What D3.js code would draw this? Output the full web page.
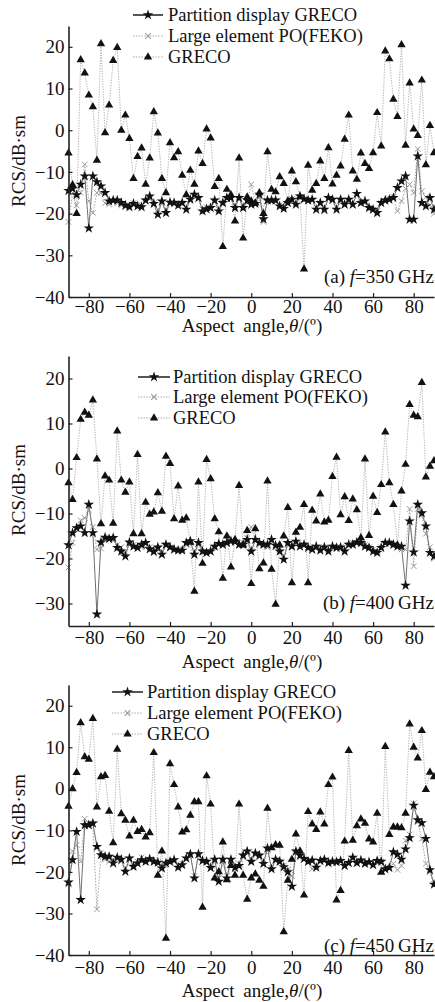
<!DOCTYPE html>
<html><head><meta charset="utf-8">
<script src="https://cdn.jsdelivr.net/npm/d3@7"></script>
<style>
body{margin:0;background:#fff}
svg{display:block}
text{font-family:"Liberation Serif","Times New Roman",serif;fill:#111}
</style>
</head><body>
<svg id="c" width="435" height="1002"></svg>
<script>
// ---------- DATA ----------
const angles = [-90,-88,-86,-84,-82,-80,-78,-76,-74,-72,-70,-68,-66,-64,-62,-60,-58,-56,-54,-52,
  -50,-48,-46,-44,-42,-40,-38,-36,-34,-32,-30,-28,-26,-24,-22,-20,-18,-16,-14,-12,-10,-8,-6,-4,-2,0,
  2,4,6,8,10,12,14,16,18,20,22,24,26,28,30,32,34,36,38,40,42,44,46,48,50,52,54,56,58,60,
  62,64,66,68,70,72,74,76,78,80,82,84,86,88,90];

const xTicks = [-80,-60,-40,-20,0,20,40,60,80];
const yTicksA = [-40,-30,-20,-10,0,10,20];
const yTicksB = [-30,-20,-10,0,10,20];
const yTicksC = [-40,-30,-20,-10,0,10,20];
const legendLabels = ["Partition display GRECO","Large element PO(FEKO)","GRECO"];
const panelTags = ["(a)","(b)","(c)"];
const panelFreqs = ["350","400","450"];

// (a) f = 350 GHz
const aGreco = [-5.5,-13.1,-20,16.9,13.7,8.4,5.6,-7.2,20.7,-0.6,6.0,16.7,19.8,0,3.6,-2,-11.6,-6.3,-4.3,-13,
  -6.7,4.4,-0.7,-11.6,-15,-3,-6.6,-5.2,-10.8,-15.5,-9.6,-13,-5,-8,0.3,-1.9,-13.5,-11.6,-27.9,-14.2,-15.5,-21.8,-6.7,-25.9,-16,-17,
  -17.5,-15,-20,-5.2,-14.2,-14.8,-11.2,-12.8,-17,-9.8,-12.4,-16,-33.3,-8.4,-14.4,-12.8,-7.4,-11.6,-4.2,-12.9,
  -10.8,-8.6,-2.2,3.6,-9.8,-11.8,-5.5,-8,-9.2,-5.4,4.2,-3.8,19,17.1,7.4,3.3,20.5,-3.6,11.3,0.3,-1.3,12,-8.3,1.1,-5.4];
const aPart = [-14.5,-14,-15.5,-13,-11,-23.5,-11,-12.4,-13.4,-15,-17,-16.8,-16.8,-17.4,-18,-18.4,-17.6,-18.2,-18.4,-16.8,
  -15.8,-17.6,-20.2,-17,-19.8,-17.3,-17.4,-18,-17.4,-19,-16.6,-15.4,-16.2,-19.4,-18.9,-18.6,-16.8,-19.4,-17.4,-16.2,-16.2,-18.6,-16.2,-18.6,-16.8,-17.8,
  -17.6,-15.4,-21.3,-16.8,-16.8,-16.8,-18.2,-18.8,-17.4,-16.6,-17.8,-15.8,-16.5,-16.8,-16.6,-19,-17.4,-19,-16.2,-16.6,
  -19,-16.6,-17.8,-16.6,-17.8,-15.2,-17.4,-17,-18.6,-19,-19.8,-17.4,-16.8,-16.6,-16.2,-13.8,-12.2,-11,-21.4,-21.4,-6.2,-17.4,-18.2,-16.2,-19];
const aFeko = [-22,-15,-18,-15,-8.2,-17,-19.8,-15,-15,-17.5,-17.8,-17,-17.5,-18,-18.5,-18,-17.5,-18,-18,-17,
  -16.5,-17.5,-19,-17.5,-19,-17.5,-17.5,-17.5,-17.5,-18.5,-16.5,-16,-16.5,-19,-18.5,-18.5,-17,-19,-17.5,-16.5,-16.5,-18.5,-16.5,-18.5,-17,-13,
  -17.5,-16,-22,-17,-17,-17,-18,-18.5,-17.5,-16.5,-17.5,-16,-16.5,-17,-17,-18.5,-17.5,-19.5,-16.5,-17,
  -18.5,-17,-17.5,-17,-18,-15.5,-17.5,-17.5,-18.5,-19,-19.5,-17.5,-17,-16.5,-16,-19.4,-17,-14,-13,-15,-4.5,-14.6,-16,-18,-20];

// (b) f = 400 GHz
const bGreco = [-3.2,-6.9,2.4,10.9,12.5,11.8,15.2,2.1,-12.3,-1.7,-2.6,-12.2,8.3,-2.6,-5.3,-3,-14.5,3.1,-14.5,-7.5,
  -10.2,-9.7,-5.4,-9.5,2.7,1.1,-11.2,-3.9,-11.5,-11,-16.4,-27.3,-3,-21.1,2,-2.3,-11.2,-14.1,-24.4,-15,-21.9,-15.8,-3.8,-17,-13.8,-25.6,
  -13.4,-22.3,-21,-2.8,-22.4,-30.2,-17,-15,-8.7,-25.4,-14.2,-13.1,-8,-25.4,-9.3,-11.7,-5.7,-11.9,-11.5,-1.8,
  2.5,-10.3,-6.3,-11.6,-6.8,-9.2,-15.4,2.1,-14.9,-6.2,-9.8,-3.6,8.1,-3.2,-8,-17,-5,0.9,14.2,11.8,11.5,19.1,-1.9,0.5,1.7];
const bPart = [-17,-14.3,-13.2,-12.8,-14.3,-8,-14.3,-32.4,-16.4,-15.3,-15.6,-15.4,-17.6,-18.4,-19.5,-16.4,-17.3,-17.6,-16.9,-16.5,
  -17.9,-18.5,-17.5,-19.1,-16.9,-17.5,-18,-18.2,-18.2,-16.5,-16.1,-19.1,-16.5,-18.4,-18.7,-18.4,-17.3,-16.7,-16.9,-16.5,-16.1,-16.2,-16.9,-16.9,-15.8,-18.4,
  -15.8,-16.5,-16.9,-16.9,-15.8,-17.1,-18.4,-20.2,-16.5,-17.3,-16.2,-17.3,-16.9,-17.6,-18,-17.3,-18.2,-17.5,-18.4,-17.3,
  -17.6,-17.5,-18.4,-16.9,-16.9,-16.4,-16.5,-17.3,-17.6,-18.4,-18.7,-17.6,-16.5,-16.5,-16.9,-17.3,-17.3,-26,-11.7,-18.6,-8,-9.9,-12.8,-18.7,-19.5];
const bFeko = [-22,-16.5,-13.5,-11.5,-11,-9.2,-13,-18,-17.8,-16,-15.5,-16,-17,-17.5,-18.5,-17,-17,-17.5,-17.5,-17.5,
  -17.5,-18.5,-18,-18.5,-17,-17.5,-18,-18,-18,-17,-16.5,-18.5,-17,-18.5,-19,-18.5,-17.5,-17,-17,-16.5,-16.5,-16.5,-17,-16.5,-15.5,-13,
  -16,-17,-17,-17.5,-16,-17.5,-18,-19.5,-17,-17.5,-16.5,-17.5,-17,-17.5,-18,-17.5,-18,-17.5,-18,-17.5,
  -17.5,-17.5,-18,-17,-16.5,-16.5,-16.5,-17,-17.5,-18,-18.5,-17.5,-16.5,-16.5,-17,-17.5,-18,-18,-9,-21.7,-9,-10.5,-14.5,-17.5,-20];

// (c) f = 450 GHz
const cGreco = [-4.2,0,3.9,15.9,7.7,7.1,16.9,-4.4,2.9,3.2,-5.4,-13,9.5,-6,-7.6,-11.4,-7.6,-10.3,-9.8,-11.6,
  -10.6,8.7,-20.8,-15,-36,6,1,-4.4,-10.4,-9.9,-6.4,-3.1,-3.1,-28.5,3.1,-3.7,-21.5,-20,-12.8,-21.9,-18.5,-20.8,-3.7,-20.8,-26.6,-21.5,
  -20.5,-22,-23.5,-4.7,-14.2,-13.5,-13.6,-34.4,-22,-17,-10.9,-15,-25.6,-5.5,-8.5,-9.8,-5.6,-8.5,1,2.8,
  -26.8,-24.5,-12.6,9.2,-12.4,-8.9,-7.3,-8.3,-12.1,-12.8,-5.9,-20.1,10.2,-11,-9.2,-9.2,-9.4,-5.9,15.6,10,7.4,14,-0.2,4,2.9];
const cPart = [-22.5,-17.1,-10.3,-26.7,-8.7,-8.7,-8.3,-13.9,-15.9,-16.3,-16.3,-17.9,-16.5,-17,-19.9,-16.7,-18.7,-17.9,-17.1,-17.5,
  -16.9,-17.5,-17.7,-19.1,-17.9,-17.5,-17.1,-18.9,-18.3,-16.7,-15.7,-21.5,-15.7,-17.3,-17.5,-19,-17,-22.3,-17,-21.5,-17,-19,-18.5,-16,-15,-17.5,
  -15.5,-16,-18,-14.3,-19.3,-17,-17.5,-18.8,-20,-23.5,-15,-16,-16.8,-17.5,-17.2,-18.9,-17.3,-17,-17.8,-17.5,
  -17.6,-17.3,-18.5,-17.8,-16.5,-17.8,-17.2,-18,-17.6,-18.3,-17.3,-17.5,-19.3,-19,-15.2,-15.8,-17,-14.5,-11.8,-4,-7.5,-8.2,-12,-19.5,-23];
const cFeko = [-23,-15,-13.5,-17.5,-7.2,-8.3,-8.5,-29,-15.5,-17,-17.5,-17,-17,-17.5,-19,-17,-18.5,-17.5,-16.5,-17.5,
  -17,-17.5,-18,-18.5,-18,-17.5,-17.5,-18.5,-18,-17,-16,-21,-16,-17.5,-17.5,-19,-17.5,-21.5,-17.5,-21,-17.5,-19,-18,-16.5,-15.5,-17,
  -16,-16.5,-18,-15,-19,-17.5,-17.5,-18.5,-19.5,-21,-15.5,-16.5,-17,-17.5,-19.3,-18.5,-17.5,-17.5,-18,-17.5,
  -17.5,-17.5,-18.5,-18,-17,-18,-17.5,-18,-18,-18.5,-17.5,-17.5,-19,-19,-18,-19.5,-18.5,-12.5,-11,-3.5,-8,-12,-18,-20,-23];

// ---------- LAYOUT ----------
const svg = d3.select("#c");
const X0 = 68.5, X1 = 434;
const x = d3.scaleLinear().domain([-90, 90]).range([X0, X1]);

const panels = [
  {greco:aGreco, part:aPart, feko:aFeko, yDom:[-40,25], yTicks:yTicksA, top:26, bot:297, pad:2.5,
   xTitleY:332, yTitleC:161, annY:283, leg:{x0:133,x1:163,tx:168,ys:[15,36,57]}},
  {greco:bGreco, part:bPart, feko:bFeko, yDom:[-35,25], yTicks:yTicksB, top:356, bot:626, pad:5,
   xTitleY:668, yTitleC:490, annY:609, leg:{x0:138,x1:170,tx:173,ys:[377,397,418]}},
  {greco:cGreco, part:cPart, feko:cFeko, yDom:[-40,25], yTicks:yTicksC, top:685, bot:955, pad:6,
   xTitleY:997, yTitleC:820, annY:952, leg:{x0:112,x1:143,tx:147,ys:[692,713,734]}}
];

const fmt = d => d < 0 ? "\u2212" + Math.abs(d) : String(d);
const starPath = d3.symbol(d3.symbolStar, 34)();
const triPath = d3.symbol(d3.symbolTriangle, 30)();
const crossPath = "M-2.8,-2.8L2.8,2.8M2.8,-2.8L-2.8,2.8";

const FS = 19, LFS = 18.5;

function drawMarkers(g, data, y, type) {
  const sel = g.selectAll(null).data(data).enter().append("path")
    .attr("transform", (d,i) => `translate(${x(angles[i])},${y(d)})`);
  if (type === "star") sel.attr("d", starPath).attr("fill", "#111");
  else if (type === "tri") sel.attr("d", triPath).attr("fill", "#111");
  else sel.attr("d", crossPath).attr("fill", "none").attr("stroke", "#999").attr("stroke-width", 1);
}

panels.forEach((p, pi) => {
  const y = d3.scaleLinear().domain(p.yDom).range([p.bot, p.top]);
  const g = svg.append("g");
  const line = d3.line().x((d,i) => x(angles[i])).y(d => y(d));

  // lines
  g.append("path").attr("d", line(p.greco)).attr("fill","none")
    .attr("stroke","#b5b5b5").attr("stroke-width",1).attr("stroke-dasharray","1.3,1.3");
  g.append("path").attr("d", line(p.feko)).attr("fill","none")
    .attr("stroke","#a8a8a8").attr("stroke-width",1).attr("stroke-dasharray","1.6,1.4");
  g.append("path").attr("d", line(p.part)).attr("fill","none")
    .attr("stroke","#707070").attr("stroke-width",1);

  // markers
  drawMarkers(g, p.feko, y, "cross");
  drawMarkers(g, p.greco, y, "tri");
  drawMarkers(g, p.part, y, "star");

  // axes
  const ya = d3.axisLeft(y).tickValues(p.yTicks).tickSize(-4).tickSizeOuter(0).tickPadding(4).tickFormat(fmt);
  const yg = svg.append("g").attr("transform", `translate(${X0},0)`).call(ya);
  const xa = d3.axisBottom(x).tickValues(xTicks).tickSize(-4).tickSizeOuter(0).tickPadding(p.pad).tickFormat(fmt);
  const xg = svg.append("g").attr("transform", `translate(0,${p.bot})`).call(xa);
  [yg, xg].forEach(a => {
    a.attr("font-family", null);
    a.select(".domain").attr("stroke","#222").attr("stroke-width",1.6);
    a.selectAll(".tick line").attr("stroke","#222").attr("stroke-width",1.2);
    a.selectAll(".tick text").attr("font-size", FS).attr("fill","#111");
  });

  // axis titles
  const xt = svg.append("text").attr("x", 252).attr("y", p.xTitleY).attr("text-anchor","middle")
    .attr("font-size", FS).attr("word-spacing", 4);
  xt.append("tspan").text("Aspect angle,");
  xt.append("tspan").attr("font-style","italic").text("\u03b8");
  xt.append("tspan").text("/(\u00ba)");

  svg.append("text").attr("transform", `translate(25,${p.yTitleC}) rotate(-90)`)
    .attr("text-anchor","middle").attr("font-size", FS).text("RCS/dB\u00b7sm");

  // annotation
  const an = svg.append("text").attr("x", 434).attr("y", p.annY).attr("text-anchor","end").attr("font-size", FS);
  an.append("tspan").text(panelTags[pi] + " ");
  an.append("tspan").attr("font-style","italic").text("f");
  an.append("tspan").text("=" + panelFreqs[pi] + "\u2009GHz");

  // legend
  const L = p.leg, mx = (L.x0 + L.x1) / 2;
  legendLabels.forEach((lab, k) => {
    const ly = L.ys[k];
    const ln = svg.append("line").attr("x1", L.x0).attr("x2", L.x1).attr("y1", ly).attr("y2", ly);
    if (k === 0) ln.attr("stroke","#555").attr("stroke-width",2);
    else ln.attr("stroke","#aaa").attr("stroke-width",1.2).attr("stroke-dasharray","1.5,1.3");
    const m = svg.append("path").attr("transform", `translate(${mx},${ly})`);
    if (k === 0) m.attr("d", starPath).attr("fill","#111");
    else if (k === 1) m.attr("d", crossPath).attr("fill","none").attr("stroke","#999").attr("stroke-width",1.1);
    else m.attr("d", triPath).attr("fill","#111");
    svg.append("text").attr("x", L.tx).attr("y", ly).attr("dy","0.33em").attr("font-size", LFS).text(lab);
  });
});
</script>
</body></html>
